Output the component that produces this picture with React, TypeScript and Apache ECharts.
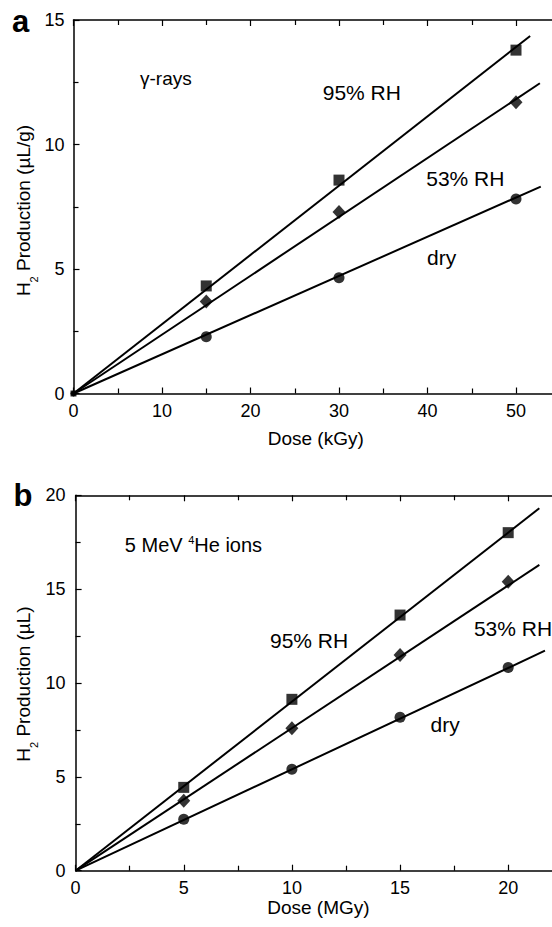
import React, { useEffect, useRef } from "react";
import * as echarts from "echarts";

const FONT = "'Liberation Sans', Arial, Helvetica, sans-serif";

// ---- Panel a: gamma-rays, dose in kGy, H2 in µL/g ----
const doseA = [0, 15, 30, 50];
const rh95A = [0, 4.32, 8.57, 13.79];
const rh53A = [0, 3.69, 7.29, 11.7];
const dryA = [0, 2.28, 4.65, 7.81];
const fitEndDoseA = [51.6, 52.7, 52.8]; // 95%, 53%, dry
const fitEndValA = [14.36, 12.46, 8.31];
const xTicksA = [0, 10, 20, 30, 40, 50, 60];
const yTicksA = [0, 5, 10, 15];

// ---- Panel b: 5 MeV 4He ions, dose in MGy, H2 in µL ----
const doseB = [5, 10, 15, 20];
const rh95B = [4.44, 9.13, 13.62, 18.01];
const rh53B = [3.73, 7.59, 11.49, 15.4];
const dryB = [2.74, 5.4, 8.17, 10.82];
const fitEndDoseB = [21.44, 21.44, 21.7];
const fitEndValB = [19.31, 16.29, 11.72];
const xTicksB = [0, 5, 10, 15, 20, 25];
const yTicksB = [0, 5, 10, 15, 20];

const seriesNames = ["95% RH", "53% RH", "dry"];

let measureCtx: CanvasRenderingContext2D | null = null;
function textWidth(t: string, size: number): number {
  if (!measureCtx) measureCtx = document.createElement("canvas").getContext("2d");
  if (!measureCtx) return t.length * size * 0.55;
  measureCtx.font = `${size}px "Liberation Sans"`;
  return measureCtx.measureText(t).width;
}

function pairs(xs: number[], ys: number[]) {
  return xs.map((x, i) => [x, ys[i]]);
}

function axisCommon(ticks: number[], showLabel: boolean) {
  return {
    type: "value" as const,
    min: ticks[0],
    max: ticks[ticks.length - 1],
    interval: ticks[1] - ticks[0],
    axisLine: { show: true, onZero: false, lineStyle: { color: "#000", width: 1.5 } },
    axisTick: { show: true, inside: true, length: 6, lineStyle: { color: "#000", width: 1.2 } },
    minorTick: { show: true, splitNumber: 2, length: 5, lineStyle: { color: "#000", width: 1.2 } },
    splitLine: { show: false },
    minorSplitLine: { show: false },
    axisLabel: { show: showLabel, color: "#000", fontSize: 18, fontFamily: FONT, margin: 8 },
  };
}

function vTitle(cx: number, cy: number, rest: string) {
  const main = 19;
  const sub = 11;
  const wH = textWidth("H", main);
  const w2 = textWidth("2", sub);
  const wR = textWidth(rest, main);
  const s = -(wH + w2 + wR) / 2;
  const base = { fill: "#000", fontFamily: FONT, align: "left", verticalAlign: "middle" };
  return {
    type: "group",
    x: cx,
    y: cy,
    rotation: Math.PI / 2,
    children: [
      { type: "text", x: s, y: 0, style: { ...base, text: "H", fontSize: main } },
      { type: "text", x: s + wH, y: 11, style: { ...base, text: "2", fontSize: sub } },
      { type: "text", x: s + wH + w2, y: 0, style: { ...base, text: rest, fontSize: main } },
    ],
  };
}

function label(text: string, x: number, y: number, size = 21, extra: any = {}) {
  return {
    type: "text",
    x,
    y,
    style: { text, fontSize: size, fontFamily: FONT, fill: "#000", align: "left", verticalAlign: "middle", ...extra },
  };
}

export default function App() {
  const ref = useRef<HTMLDivElement>(null);
  useEffect(() => {
    if (!ref.current) return;
    const chart = echarts.init(ref.current, undefined, { renderer: "svg" });

    const symbols = ["rect", "diamond", "circle"];
    const sizes: any[] = [11, [13, 14], 11];
    const valsA = [rh95A, rh53A, dryA];
    const valsB = [rh95B, rh53B, dryB];

    const series: any[] = [];
    [0, 1, 2].forEach((i) => {
      series.push({
        name: seriesNames[i] + " fit a",
        type: "line",
        xAxisIndex: 0,
        yAxisIndex: 0,
        data: [[0, 0], [fitEndDoseA[i], fitEndValA[i]]],
        showSymbol: false,
        symbol: "none",
        lineStyle: { color: "#000", width: 2 },
        silent: true,
        z: 2,
      });
      series.push({
        name: seriesNames[i] + " fit b",
        type: "line",
        xAxisIndex: 2,
        yAxisIndex: 1,
        data: [[0, 0], [fitEndDoseB[i], fitEndValB[i]]],
        showSymbol: false,
        symbol: "none",
        lineStyle: { color: "#000", width: 2 },
        silent: true,
        z: 2,
      });
    });
    [0, 1, 2].forEach((i) => {
      series.push({
        name: seriesNames[i] + " a",
        type: "scatter",
        xAxisIndex: 0,
        yAxisIndex: 0,
        data: pairs(doseA, valsA[i]),
        symbol: symbols[i],
        symbolSize: (v: number[]) => (v[0] === 0 ? 6 : sizes[i]),
        itemStyle: { color: "#000" },
        clip: false,
        z: 3,
      });
      series.push({
        name: seriesNames[i] + " b",
        type: "scatter",
        xAxisIndex: 2,
        yAxisIndex: 1,
        data: pairs(doseB, valsB[i]),
        symbol: symbols[i],
        symbolSize: sizes[i],
        itemStyle: { color: "#000" },
        z: 3,
      });
    });

    const xLabel = { color: "#000", fontSize: 18, fontFamily: FONT, margin: 8, showMaxLabel: false };

    const option: any = {
      animation: false,
      backgroundColor: "#fff",
      grid: [
        { left: 73.5, top: 20, width: 8.85 * 60, height: 373.5, containLabel: false },
        { left: 75.6, top: 495.3, width: 21.63 * 25, height: 375.4, containLabel: false },
      ],
      xAxis: [
        { ...axisCommon(xTicksA, true), gridIndex: 0, position: "bottom", axisLabel: xLabel },
        { ...axisCommon(xTicksA, false), gridIndex: 0, position: "top" },
        { ...axisCommon(xTicksB, true), gridIndex: 1, position: "bottom", axisLabel: xLabel },
        { ...axisCommon(xTicksB, false), gridIndex: 1, position: "top" },
      ],
      yAxis: [
        { ...axisCommon(yTicksA, true), gridIndex: 0, position: "left", axisLabel: { color: "#000", fontSize: 18, fontFamily: FONT, margin: 9 } },
        { ...axisCommon(yTicksB, true), gridIndex: 1, position: "left", axisLabel: { color: "#000", fontSize: 18, fontFamily: FONT, margin: 10 } },
      ],
      series,
      graphic: [
        label("a", 12, 21, 31, { fontWeight: "bold" }),
        label("b", 13.5, 495, 31, { fontWeight: "bold" }),
        label("γ-rays", 140, 78, 19),
        label("95% RH", 322.7, 92),
        label("53% RH", 426.2, 178),
        label("dry", 427, 257),
        label("5 MeV ", 124.8, 545, 20),
        label("4", 124.8 + textWidth("5 MeV ", 20), 540, 11),
        label("He ions", 124.8 + textWidth("5 MeV ", 20) + textWidth("4", 11), 545, 20),
        label("95% RH", 270, 640),
        label("53% RH", 473.9, 628),
        label("dry", 430.5, 724),
        { type: "text", x: 315.7, y: 438, style: { text: "Dose (kGy)", fontSize: 19, fontFamily: FONT, fill: "#000", align: "center", verticalAlign: "middle" } },
        { type: "text", x: 318.4, y: 907.5, style: { text: "Dose (MGy)", fontSize: 19, fontFamily: FONT, fill: "#000", align: "center", verticalAlign: "middle" } },
        vTitle(23, 210.5, " Production (µL/g)"),
        vTitle(23, 684, " Production (µL)"),
      ],
    };
    chart.setOption(option);
    return () => chart.dispose();
  }, []);
  return (
    <div style={{ position: "absolute", left: 0, top: 0, width: 552, height: 927, overflow: "hidden", background: "#fff" }}>
      <div ref={ref} style={{ width: 640, height: 927 }} />
    </div>
  );
}
